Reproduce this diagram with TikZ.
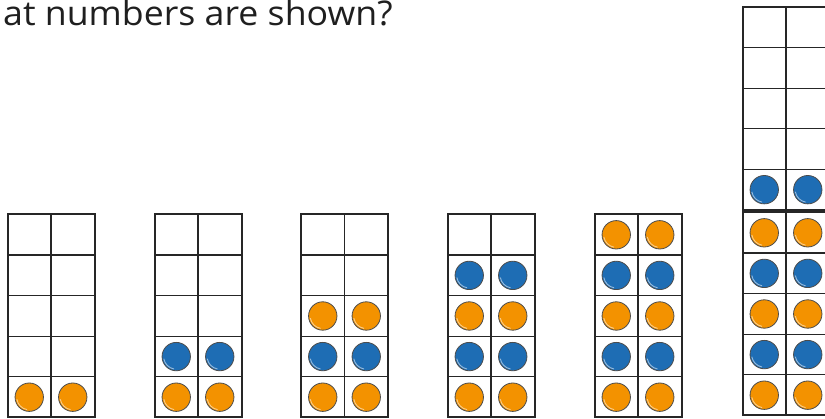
\documentclass[tikz,border=0pt]{standalone}
\usepackage{fontspec}
\setmainfont{Open Sans}
\usetikzlibrary{positioning}

\definecolor{counterorange}{HTML}{F39200}
\definecolor{counterblue}{HTML}{1E6DB4}
\definecolor{gridline}{HTML}{262626}

\begin{document}
\begin{tikzpicture}[x=1pt, y=-1pt,
    frame/.style={draw=gridline, line width=2pt},
    cellline/.style={draw=gridline, line width=1.2pt},
    counter/.style={draw=black!70, line width=0.8pt},
    shine/.style={draw=white, line width=0.9pt, opacity=0.55},
    question/.style={anchor=base west, inner sep=0pt, text=black!88,
                     font=\fontsize{34}{40}\selectfont},
  ]
    \clip (0,0) rectangle (825,419);
    \node[question] (title) at (3,26) {\scalebox{1.05}[1]{at numbers are shown?}};

    % empty ten frames
    \foreach \fx/\fy in {7.5/214.5, 154.5/214.5, 301/214.5, 447.5/214.5, 594.5/214.5, 742.5/212.5, 742.5/7}{
      \draw[cellline] (\fx+43.5,\fy) -- ++(0,203);
      \foreach \r in {1,...,4} \draw[cellline] (\fx,\fy+40.6*\r) -- ++(87,0);
      \draw[frame] (\fx,\fy) rectangle ++(87,203);
    }

    % counters: orange on odd, blue on even, filled from the bottom row up
    \foreach \fx/\fy/\from/\to in {7.5/214.5/1/1, 154.5/214.5/1/2, 301/214.5/1/3, 447.5/214.5/1/4,
                                   594.5/214.5/1/5, 742.5/212.5/1/5, 742.5/7/6/6}{
      \foreach \j in {\from,...,\to}{
        \ifodd\j \def\cc{counterorange}\else \def\cc{counterblue}\fi
        \pgfmathsetmacro\cy{\fy+203-40.6*(\j-\from+0.5)}
        \foreach \cx in {\fx+21.75, \fx+65.25}{
          \draw[counter, fill=\cc] (\cx,\cy) circle[radius=14.2];
          \draw[shine] (\cx,\cy) ++(100:12.6) arc[start angle=100, end angle=170, radius=12.6];
        }
      }
    }
\end{tikzpicture}
\end{document}
